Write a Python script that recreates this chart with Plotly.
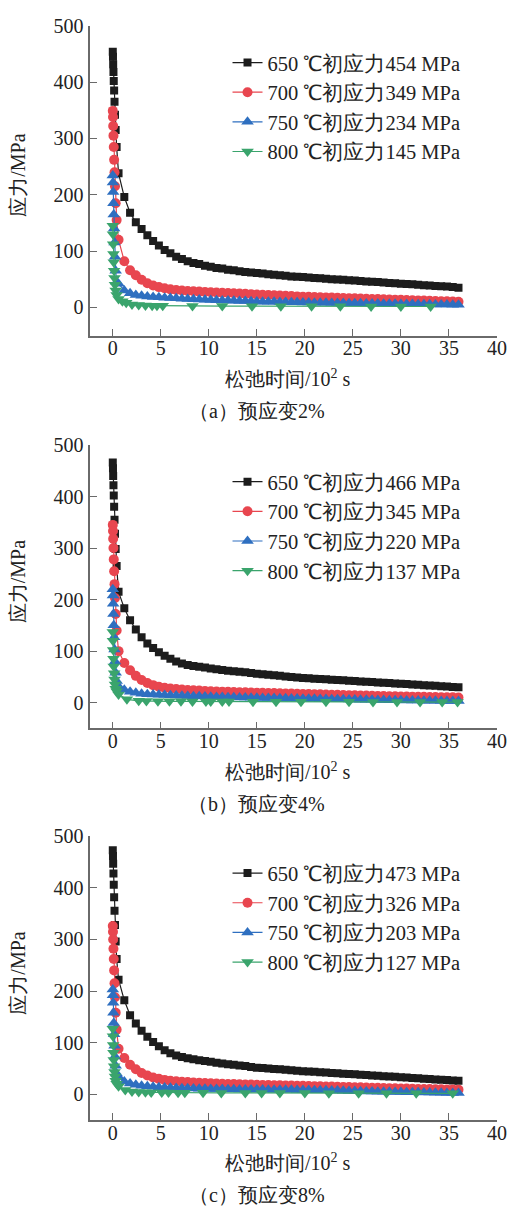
import plotly.graph_objects as go

# ---------------- data ----------------
T_HEAD = [0, 0.02, 0.04, 0.07, 0.1, 0.14, 0.18, 0.23, 0.3, 0.4]
T_TAIL = [0.6, 1.2, 1.8, 2.4, 3.0, 3.6, 4.2, 4.8, 5.4, 6.0, 6.6, 7.2, 7.8, 8.4, 9.0, 9.6,
          10.2, 10.8, 11.4, 12.0, 12.6, 13.2, 13.8, 14.4, 15.0, 15.6, 16.2, 16.8, 17.4, 18.0,
          18.6, 19.2, 19.8, 20.4, 21.0, 21.6, 22.2, 22.8, 23.4, 24.0, 24.6, 25.2, 25.8, 26.4,
          27.0, 27.6, 28.2, 28.8, 29.4, 30.0, 30.6, 31.2, 31.8, 32.4, 33.0, 33.6, 34.2, 34.8,
          35.4, 36.0]

# panel (a) pre-strain 2%
A_BLACK_HEAD = [454, 445, 432, 418, 402, 385, 365, 342, 315, 285]
A_BLACK_TAIL = [238, 196, 168, 151, 139, 128, 118, 110, 102, 96, 90, 86, 82, 79, 77, 74, 72, 70,
                69, 67, 66, 64, 63, 62, 61, 60, 59, 58, 57, 56, 55, 54.5, 54, 53, 52, 51.5, 51, 50,
                49.5, 49, 48, 47.5, 47, 46, 45.5, 45, 44, 43.5, 43, 42, 41.5, 41, 40, 39.5, 39, 38,
                37.5, 37, 36, 35]
A_RED_HEAD = [349, 338, 322, 305, 285, 262, 240, 215, 185, 155]
A_RED_TAIL = [120, 82, 66, 57, 49, 43, 39, 36, 34, 32, 31, 30, 29, 28.5, 28, 27.5, 27, 26.5, 26,
              25.5, 25, 24.5, 24, 23.5, 23, 22.5, 22, 21.5, 21, 20.5, 20, 19.5, 19, 18.8, 18.5, 18,
              17.7, 17.4, 17, 16.7, 16.4, 16, 15.7, 15.4, 15, 14.7, 14.4, 14, 13.7, 13.4, 13, 12.7,
              12.4, 12, 11.7, 11.4, 11, 10.7, 10.4, 10]
A_BLUE_HEAD = [234, 222, 205, 185, 165, 140, 115, 90, 65, 45]
A_BLUE_TAIL = [42, 30, 25, 22, 20.5, 19.5, 18.5, 17.8, 17, 16.5, 16, 15.5, 15, 14.5, 14, 13.6,
               13.2, 12.8, 12.4, 12, 11.7, 11.4, 11.1, 10.8, 10.5, 10.2, 10, 9.8, 9.6, 9.4, 9.2, 9,
               8.8, 8.6, 8.4, 8.2, 8, 7.9, 7.8, 7.6, 7.5, 7.3, 7.2, 7, 6.9, 6.7, 6.6, 6.4, 6.3, 6.1,
               6, 5.8, 5.7, 5.5, 5.4, 5.2, 5.1, 5, 4.8, 4.7]
A_GREEN_HEAD = [145, 130, 112, 95, 80, 65, 52, 40, 30, 22]
A_GREEN_T = [0.6, 1.0, 1.4, 2.0, 2.7, 3.4, 4.1, 4.6, 5.2, 8.3, 11.4, 14.5, 17.5, 20.7, 23.7,
             26.9, 30.0, 33.1]
A_GREEN_TAIL = [15, 11, 8, 5, 4, 3.5, 3, 3, 2.8, 2.5, 2.3, 2.1, 2, 1.9, 1.8, 1.7, 1.6, 1.5]

# panel (b) pre-strain 4%
B_BLACK_HEAD = [466, 455, 440, 422, 402, 380, 355, 328, 298, 265]
B_BLACK_TAIL = [215, 183, 160, 142, 127, 115, 106, 98, 91, 85, 80, 76, 73, 71, 69.5, 68, 66.5, 65,
                63.5, 62, 61, 60, 59, 57.5, 56, 55, 54, 53, 52, 51, 50, 49, 48, 47.3, 46.6, 46,
                45.3, 44.6, 44, 43.3, 42.6, 42, 41.3, 40.6, 40, 39.3, 38.6, 38, 37.3, 36.6, 36,
                35.3, 34.6, 34, 33.3, 32.6, 32, 31.3, 30.6, 30]
B_RED_HEAD = [345, 333, 318, 300, 278, 255, 230, 203, 172, 140]
B_RED_TAIL = [100, 77, 63, 52, 44, 38, 34, 31, 29, 27.5, 26.5, 25.5, 24.7, 24, 23.4, 22.8, 22.3,
              21.8, 21.4, 21, 20.6, 20.3, 20, 19.7, 19.4, 19.1, 18.8, 18.5, 18.2, 17.9, 17.6, 17.3,
              17, 16.7, 16.4, 16.1, 15.8, 15.5, 15.2, 14.9, 14.6, 14.3, 14, 13.7, 13.4, 13.1, 12.8,
              12.5, 12.3, 12.1, 11.9, 11.7, 11.5, 11.3, 11.1, 10.9, 10.7, 10.5, 10.3, 10.1]
B_BLUE_HEAD = [220, 208, 192, 172, 150, 127, 103, 80, 58, 42]
B_BLUE_TAIL = [32, 25, 21, 19, 17.5, 16.5, 15.8, 15.2, 14.7, 14.2, 13.8, 13.4, 13, 12.6, 12.2,
               11.8, 11.5, 11.2, 10.9, 10.6, 10.3, 10, 9.8, 9.6, 9.4, 9.2, 9, 8.8, 8.6, 8.4, 8.2, 8,
               7.8, 7.6, 7.4, 7.2, 7, 6.8, 6.6, 6.4, 6.2, 6, 5.8, 5.6, 5.4, 5.2, 5, 4.8, 4.6, 4.5,
               4.4, 4.2, 4, 3.9, 3.7, 3.6, 3.4, 3.3, 3.1, 3]
B_GREEN_HEAD = [137, 120, 102, 85, 70, 57, 45, 35, 27, 22]
B_GREEN_T = [0.6, 1.47, 2.7, 3.5, 4.7, 5.9, 7.1, 8.3, 9.7, 10.2, 11.4, 12.1, 14.6, 17.0, 19.6,
             22.2, 24.6, 27.1, 29.6, 32.0, 34.3, 35.9]
B_GREEN_TAIL = [16, 6.5, 3.5, 3, 2.8, 2.6, 2.5, 2.4, 2.3, 2.2, 2.1, 2.1, 2, 1.9, 1.8, 1.7, 1.6,
                1.5, 1.4, 1.3, 1.2, 1.1]

# panel (c) pre-strain 8%
C_BLACK_HEAD = [473, 462, 447, 428, 406, 382, 356, 328, 296, 262]
C_BLACK_TAIL = [222, 182, 153, 137, 123, 111, 101, 93, 85, 79, 75, 72, 69.5, 67.5, 65.5, 64, 62.5,
                61, 59.5, 58, 56.8, 55.6, 54.4, 52.6, 51.2, 50.4, 49.6, 48.8, 48, 47.2, 46.4, 45.4,
                44.5, 43.8, 43.1, 42.4, 41.7, 41, 40.3, 39.6, 38.9, 38.3, 37.6, 36.9, 36.2, 35.5,
                34.8, 34.1, 33.4, 32.7, 32, 31.3, 30.6, 29.9, 29.2, 28.5, 27.8, 27.1, 26.4, 25.7]
C_RED_HEAD = [326, 315, 300, 282, 262, 240, 215, 188, 158, 125]
C_RED_TAIL = [88, 70, 57, 48, 41, 36, 32, 29.5, 27.5, 26, 25, 24, 23.3, 22.6, 22, 21.5, 21, 20.5,
              20.1, 19.7, 19.3, 19, 18.7, 18.4, 18.1, 17.8, 17.5, 17.2, 16.9, 16.7, 16.5, 16.2, 16,
              15.7, 15.4, 15.1, 14.8, 14.5, 14.2, 13.9, 13.6, 13.3, 13, 12.7, 12.4, 12.1, 11.8,
              11.5, 11.2, 10.9, 10.6, 10.3, 10, 9.8, 9.6, 9.4, 9.2, 9, 8.8, 8.6]
C_BLUE_HEAD = [203, 192, 177, 158, 138, 116, 94, 73, 55, 40]
C_BLUE_TAIL = [33, 24.5, 20.5, 18, 16.3, 15, 14, 13.2, 12.6, 12.1, 11.7, 11.4, 11.1, 10.8, 10.5,
               10.2, 10, 9.8, 9.6, 9.4, 9.2, 9.1, 9, 8.9, 8.8, 8.7, 8.6, 8.5, 8.4, 8.3, 8.2, 8.1, 8,
               7.8, 7.6, 7.4, 7.2, 7, 6.7, 6.4, 6.1, 5.8, 5.5, 5.2, 4.9, 4.7, 4.5, 4.3, 4.1, 3.9,
               3.7, 3.5, 3.3, 3.1, 2.9, 2.7, 2.5, 2.3, 2.1, 2]
C_GREEN_HEAD = [127, 112, 95, 80, 66, 54, 43, 34, 26, 20]
C_GREEN_T = [0.6, 1.3, 2.0, 2.7, 3.4, 4.0, 5.1, 5.8, 6.8, 7.5, 9.4, 11.3, 13.8, 15.5, 17.4, 20.0,
             22.5, 25.6, 28.5, 31.6, 35.4]
C_GREEN_TAIL = [15, 8, 5, 4, 3.5, 3.2, 3, 2.8, 2.7, 2.6, 2.4, 2.3, 2.2, 2.1, 2, 1.9, 1.8, 1.7, 1.6,
                1.5, 1.4]

INIT = {"a": [454, 349, 234, 145], "b": [466, 345, 220, 137], "c": [473, 326, 203, 127]}
TEMPS = ["650", "700", "750", "800"]
CAPTIONS = ["（a）预应变2%", "（b）预应变4%", "（c）预应变8%"]
X_TICKS = [0, 5, 10, 15, 20, 25, 30, 35, 40]
Y_TICKS = [0, 100, 200, 300, 400, 500]

# ---------------- styling ----------------
W, H = 517, 1210
FONT = "Liberation Serif"
COLORS = ["#1c1c1c", "#e8464f", "#2e6fc0", "#3aa46c"]
SYMBOLS = ["square", "circle", "triangle-up", "triangle-down"]
SIZES = [8, 10, 11, 11]
AXCOL = "#6a6a6a"

# panel pixel boxes: (top, bottom)
PANELS = [(15, 327.5), (438, 724), (833, 1119)]
X_LEFT, X_RIGHT = 92, 506.7

fig = go.Figure()

panel_data = [
    ("a", [(A_BLACK_HEAD, T_TAIL, A_BLACK_TAIL), (A_RED_HEAD, T_TAIL, A_RED_TAIL),
           (A_BLUE_HEAD, T_TAIL, A_BLUE_TAIL), (A_GREEN_HEAD, A_GREEN_T, A_GREEN_TAIL)]),
    ("b", [(B_BLACK_HEAD, T_TAIL, B_BLACK_TAIL), (B_RED_HEAD, T_TAIL, B_RED_TAIL),
           (B_BLUE_HEAD, T_TAIL, B_BLUE_TAIL), (B_GREEN_HEAD, B_GREEN_T, B_GREEN_TAIL)]),
    ("c", [(C_BLACK_HEAD, T_TAIL, C_BLACK_TAIL), (C_RED_HEAD, T_TAIL, C_RED_TAIL),
           (C_BLUE_HEAD, T_TAIL, C_BLUE_TAIL), (C_GREEN_HEAD, C_GREEN_T, C_GREEN_TAIL)]),
]

annotations = []
for i, (key, series) in enumerate(panel_data):
    n = i + 1
    xa = "x" if n == 1 else f"x{n}"
    ya = "y" if n == 1 else f"y{n}"
    lg = "legend" if n == 1 else f"legend{n}"
    for j, (head, tt, tail) in enumerate(series):
        fig.add_trace(go.Scatter(
            x=T_HEAD + tt, y=head + tail, xaxis=xa, yaxis=ya, legend=lg,
            mode="lines+markers",
            name=f"{TEMPS[j]} ℃初应力{INIT[key][j]} MPa",
            line=dict(color=COLORS[j], width=1.2),
            marker=dict(symbol=SYMBOLS[j], size=SIZES[j], color=COLORS[j], line=dict(width=0)),
        ))
    top, bot = PANELS[i]
    dom_y = [1 - bot / H, 1 - top / H]
    axis_common = dict(showline=True, linecolor=AXCOL, linewidth=1.6, ticks="inside",
                       ticklen=7, tickwidth=1.4, tickcolor=AXCOL, showgrid=False,
                       zeroline=False, mirror=False,
                       tickfont=dict(family=FONT, size=20, color="#222"))
    fig.update_layout(**{
        ("xaxis" if n == 1 else f"xaxis{n}"): dict(
            domain=[X_LEFT / W, X_RIGHT / W], range=[-2.35, 40], tickvals=X_TICKS,
            anchor=ya, ticklabelstandoff=-6, **axis_common),
        ("yaxis" if n == 1 else f"yaxis{n}"): dict(
            domain=dom_y, range=[-50, 500], tickvals=Y_TICKS, anchor=xa,
            ticklabelstandoff=1, **axis_common),
        lg: dict(x=232 / W, xanchor="left", y=1 - (top + 17) / H, yanchor="top",
                 bgcolor="rgba(0,0,0,0)", font=dict(family=FONT, size=20.5, color="#222"),
                 itemclick=False, tracegroupgap=0),
    })
    zero_px = bot - (bot - top) * 50 / 550
    scale = (bot - top) / 550
    # y title
    annotations.append(dict(
        text="应力/MPa", xref="paper", yref="paper", x=18 / W,
        y=1 - (zero_px - 235 * scale) / H, textangle=-90, showarrow=False,
        xanchor="center", yanchor="middle", font=dict(family=FONT, size=20, color="#222")))
    # x title
    annotations.append(dict(
        text="松弛时间/10<sup>2</sup> s", xref="paper", yref="paper", x=294 / W,
        y=1 - (bot + 43) / H, showarrow=False, xanchor="center", yanchor="middle",
        font=dict(family=FONT, size=20, color="#222")))
    # caption
    annotations.append(dict(
        text=CAPTIONS[i], xref="paper", yref="paper", x=262 / W,
        y=1 - (bot + 76) / H, showarrow=False, xanchor="center", yanchor="middle",
        font=dict(family=FONT, size=20, color="#222")))

fig.update_layout(width=W, height=H, margin=dict(l=0, r=0, t=0, b=0),
                  paper_bgcolor="white", plot_bgcolor="white",
                  annotations=annotations, showlegend=True)

fig.write_html("out.html")
